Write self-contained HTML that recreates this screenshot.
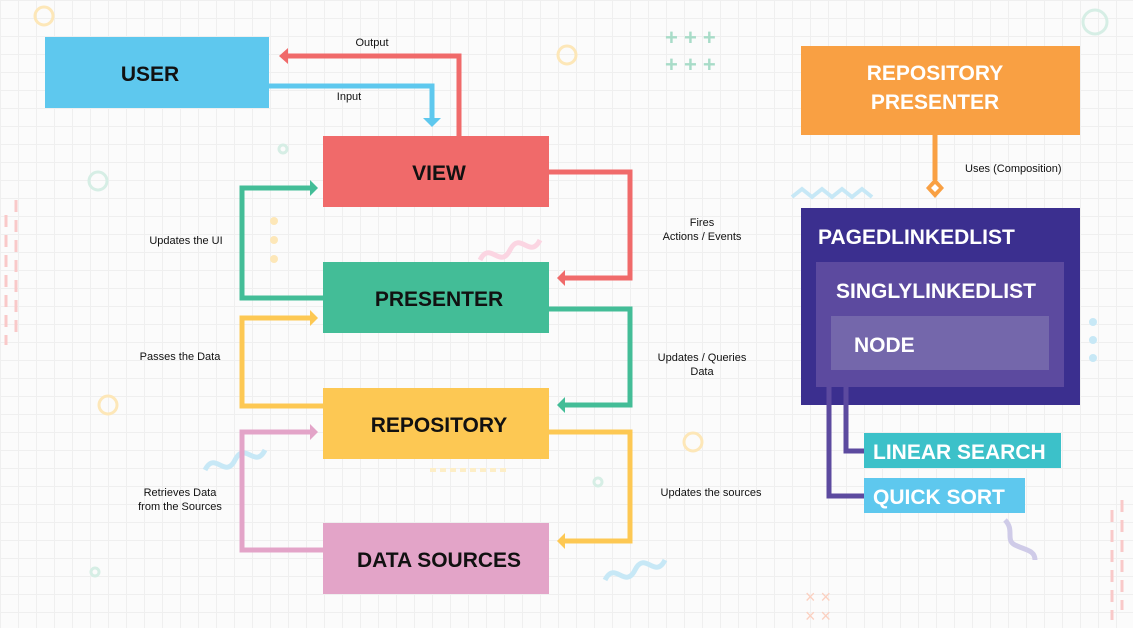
<!DOCTYPE html>
<html><head><meta charset="utf-8"><style>
html,body{margin:0;padding:0}
body{width:1133px;height:628px;overflow:hidden;background:#fbfbfb;
background-image:linear-gradient(#efefef 1px,transparent 1px),linear-gradient(90deg,#efefef 1px,transparent 1px);background-size:18px 18px;}
svg{position:absolute;left:0;top:0}
text{font-family:"Liberation Sans",sans-serif}
.b{font-weight:bold;font-size:21px;fill:#111;text-anchor:middle}
.w{font-weight:bold;font-size:21px;fill:#fff}
.s{font-size:11px;fill:#111;text-anchor:middle}
</style></head><body>
<svg width="1133" height="628" viewBox="0 0 1133 628">
<!-- decorations -->
<g fill="none" stroke-width="3">
<circle cx="44" cy="16" r="9" stroke="#fde7b8"/>
<circle cx="98" cy="181" r="9" stroke="#d6eee5"/>
<circle cx="283" cy="149" r="4" stroke="#d6eee5"/>
<circle cx="567" cy="55" r="9" stroke="#fde7b8"/>
<circle cx="1095" cy="22" r="12" stroke="#d6eee5"/>
<circle cx="108" cy="405" r="9" stroke="#fde7b8"/>
<circle cx="693" cy="442" r="9" stroke="#fde7b8"/>
<circle cx="598" cy="482" r="4" stroke="#d6eee5"/>
<circle cx="95" cy="572" r="4" stroke="#d6eee5"/>
<path d="M792 197l10-8 10 8 10-8 10 8 10-8 10 8 10-8 10 8" stroke="#c7e8f6" stroke-width="4"/>
<path d="M480 260c10-20 20 10 30-10s20 10 30-10" stroke="#fbd5e2" stroke-width="5"/>
<path d="M605 580c10-20 20 10 30-10s20 10 30-10" stroke="#c7e8f6" stroke-width="5"/>
<path d="M205 470c10-20 20 10 30-10s20 10 30-10" stroke="#c7e8f6" stroke-width="5"/>
<path d="M1005 520c10 10 0 20 10 25s20 5 20 15" stroke="#cfcbe8" stroke-width="5"/>
<path d="M16 200v140M6 215v130" stroke="#f9c9c9" stroke-dasharray="12 8"/>
<path d="M1112 510v110M1122 500v110" stroke="#f9c9c9" stroke-dasharray="12 8"/>
<path d="M430 470h80" stroke="#fdeec7" stroke-width="4" stroke-dasharray="6 4"/>
</g>
<g fill="#fde7b8"><circle cx="274" cy="221" r="4"/><circle cx="274" cy="240" r="4"/><circle cx="274" cy="259" r="4"/></g>
<g fill="#c7e8f6"><circle cx="1093" cy="322" r="4"/><circle cx="1093" cy="340" r="4"/><circle cx="1093" cy="358" r="4"/></g>
<g fill="#a8dcc8" font-size="22" font-family="Liberation Sans" font-weight="bold"><text x="665" y="45">+ + +</text><text x="665" y="72">+ + +</text></g>
<g fill="#fbd0c0" font-size="18" font-family="Liberation Sans"><text x="805" y="603">× ×</text><text x="805" y="622">× ×</text></g>

<!-- boxes -->
<rect x="45" y="37" width="224" height="71" fill="#5ec8ee"/><text class="b" x="150" y="81">USER</text>
<rect x="323" y="136" width="226" height="71" fill="#f06a6a"/><text class="b" x="439" y="180">VIEW</text>
<rect x="323" y="262" width="226" height="71" fill="#43bd97"/><text class="b" x="439" y="306">PRESENTER</text>
<rect x="323" y="388" width="226" height="71" fill="#fdc853"/><text class="b" x="439" y="432">REPOSITORY</text>
<rect x="323" y="523" width="226" height="71" fill="#e3a4c8"/><text class="b" x="439" y="567">DATA SOURCES</text>

<!-- connectors -->
<g fill="none" stroke-width="5">
<path d="M459 136V56H285" stroke="#f06a6a"/>
<path d="M269 86H432V118" stroke="#5ec8ee"/>
<path d="M323 298H242V188H312" stroke="#43bd97"/>
<path d="M549 172H630V278H564" stroke="#f06a6a"/>
<path d="M323 406H242V318H312" stroke="#fdc853"/>
<path d="M549 309H630V405H564" stroke="#43bd97"/>
<path d="M323 550H242V432H312" stroke="#e3a4c8"/>
<path d="M549 432H630V541H564" stroke="#fdc853"/>
</g>
<g>
<path d="M279 56l9-8v16z" fill="#f06a6a"/>
<path d="M432 127l-9-9h18z" fill="#5ec8ee"/>
<path d="M318 188l-8-8v16z" fill="#43bd97"/>
<path d="M557 278l8-8v16z" fill="#f06a6a"/>
<path d="M318 318l-8-8v16z" fill="#fdc853"/>
<path d="M557 405l8-8v16z" fill="#43bd97"/>
<path d="M318 432l-8-8v16z" fill="#e3a4c8"/>
<path d="M557 541l8-8v16z" fill="#fdc853"/>
</g>
<text class="s" x="372" y="46">Output</text>
<text class="s" x="349" y="100">Input</text>
<text class="s" x="186" y="244">Updates the UI</text>
<text class="s" x="180" y="360">Passes the Data</text>
<text class="s" x="180" y="496">Retrieves Data</text>
<text class="s" x="180" y="510">from the Sources</text>
<text class="s" x="702" y="226">Fires</text>
<text class="s" x="702" y="240">Actions / Events</text>
<text class="s" x="702" y="361">Updates / Queries</text>
<text class="s" x="702" y="375">Data</text>
<text class="s" x="711" y="496">Updates the sources</text>

<!-- right side -->
<rect x="801" y="46" width="279" height="89" fill="#f9a043"/>
<text class="w" x="935" y="80" text-anchor="middle">REPOSITORY</text>
<text class="w" x="935" y="109" text-anchor="middle">PRESENTER</text>
<path d="M935 135V180" stroke="#f9a043" stroke-width="5"/>
<path d="M935 178l9 10-9 10-9-10z" fill="#f9a043"/><path d="M935 184l4 4-4 4-4-4z" fill="#fff"/>
<text x="965" y="172" font-size="11" fill="#111" font-family="Liberation Sans">Uses (Composition)</text>
<rect x="801" y="208" width="279" height="197" fill="#3b2f8f"/>
<text class="w" x="818" y="244">PAGEDLINKEDLIST</text>
<rect x="816" y="262" width="248" height="125" fill="#5c4a9f"/>
<text class="w" x="836" y="298">SINGLYLINKEDLIST</text>
<rect x="831" y="316" width="218" height="54" fill="#7467ab"/>
<text class="w" x="854" y="352">NODE</text>
<path d="M846 387V451H866M829 387V496H866" fill="none" stroke="#5c4a9f" stroke-width="5"/>
<rect x="864" y="433" width="197" height="35" fill="#3cc1c9"/>
<text class="w" x="873" y="459">LINEAR SEARCH</text>
<rect x="864" y="478" width="161" height="35" fill="#5ec8ee"/>
<text class="w" x="873" y="504">QUICK SORT</text>
</svg>
</body></html>
